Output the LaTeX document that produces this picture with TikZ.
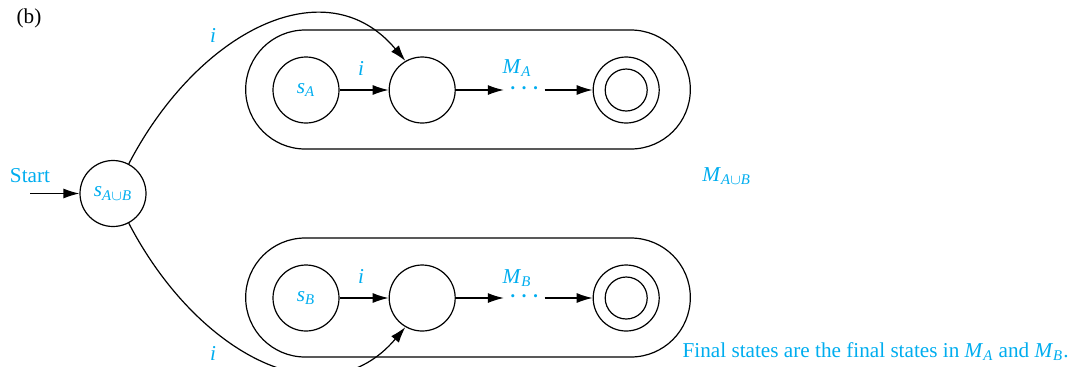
\documentclass[tikz,border=0pt]{standalone}
\usepackage{fontspec}
\setmainfont{Liberation Serif}
\usepackage{tikz}
\usetikzlibrary{arrows.meta,positioning,shapes.misc}
\definecolor{labelcyan}{RGB}{0,173,239}

\begin{document}
\begin{tikzpicture}[x=0.5pt, y=-0.5pt, node distance=24pt, every node/.style={font=\fontsize{10.6}{13}\selectfont}, statenode/.style={draw, circle, minimum size=33pt, inner sep=0pt, line width=0.6pt, text=labelcyan}, capsule/.style={draw, rounded rectangle, minimum width=229pt, minimum height=59.5pt, line width=0.6pt}, lbl/.style={text=labelcyan, inner sep=0pt}, dotsbox/.style={text=labelcyan, inner sep=0pt, minimum width=20pt, font=\fontsize{6.5}{8}\selectfont}, arr/.style={-{Latex[length=8pt,width=5pt]}, line width=0.6pt}]
\useasboundingbox (0,0) rectangle (1071,366);
\clip (0,0) rectangle (1071,366);
\node[anchor=base] (tag) at (29,23) {(b)};
% the two machines
\node[capsule] (capA) at (468,89.5) {};
\node[capsule] (capB) at (468,297.5) {};
\node[statenode] (sA) at (306,90) {\textit{s}\textsubscript{\textit{A}}};
\node[statenode, right=24.5pt of sA] (qA) {};
\node[dotsbox, right=of qA] (dotsA) {\textbullet\hspace{3.4pt}\textbullet\hspace{3.4pt}\textbullet};
\node[statenode, right=of dotsA] (fA) {};
\node[draw, circle, minimum size=21pt, inner sep=0pt, line width=0.6pt] (fAin) at (fA) {};
\node[statenode] (sB) at (306,298) {\textit{s}\textsubscript{\textit{B}}};
\node[statenode, right=24.5pt of sB] (qB) {};
\node[dotsbox, right=of qB] (dotsB) {\textbullet\hspace{3.4pt}\textbullet\hspace{3.4pt}\textbullet};
\node[statenode, right=of dotsB] (fB) {};
\node[draw, circle, minimum size=21pt, inner sep=0pt, line width=0.6pt] (fBin) at (fB) {};
% new start state
\node[statenode] (sAB) at (113,193.5) {\textit{s}\textsubscript{\textit{A}$\cup$\textit{B}}};
\coordinate (startin) at (30,193.5);
\node[lbl, anchor=base] (startlbl) at (30,182) {Start};
\draw[arr] (startin) -- (sAB);
\draw[arr] (sA) -- (qA);
\draw[arr] (qA) -- (dotsA);
\draw[arr] (dotsA) -- (fA);
\draw[arr] (sB) -- (qB);
\draw[arr] (qB) -- (dotsB);
\draw[arr] (dotsB) -- (fB);
\draw[arr] (sAB.62) .. controls (198,31) and (326,-34) .. (qA.120);
\draw[arr] (sAB.-62) .. controls (198,356) and (326,421) .. (qB.-120);
% labels
\node[lbl, anchor=base] (iA) at (361,75) {\textit{i}};
\node[lbl, anchor=base] (iB) at (361,283) {\textit{i}};
\node[lbl, anchor=base] (iTop) at (213,42) {\textit{i}};
\node[lbl, anchor=base] (iBot) at (213,360) {\textit{i}};
\node[lbl, anchor=base] (mA) at (517,73) {\textit{M}\textsubscript{\textit{A}}};
\node[lbl, anchor=base] (mB) at (517,283) {\textit{M}\textsubscript{\textit{B}}};
\node[lbl, anchor=base west] (mAB) at (702,181) {\textit{M}\textsubscript{\textit{A}$\cup$\textit{B}}};
\node[lbl, anchor=base east] (note) at (1069,357) {Final states are the final states in \textit{M}\textsubscript{\textit{A}} and \textit{M}\textsubscript{\textit{B}}.};
\end{tikzpicture}
\end{document}
